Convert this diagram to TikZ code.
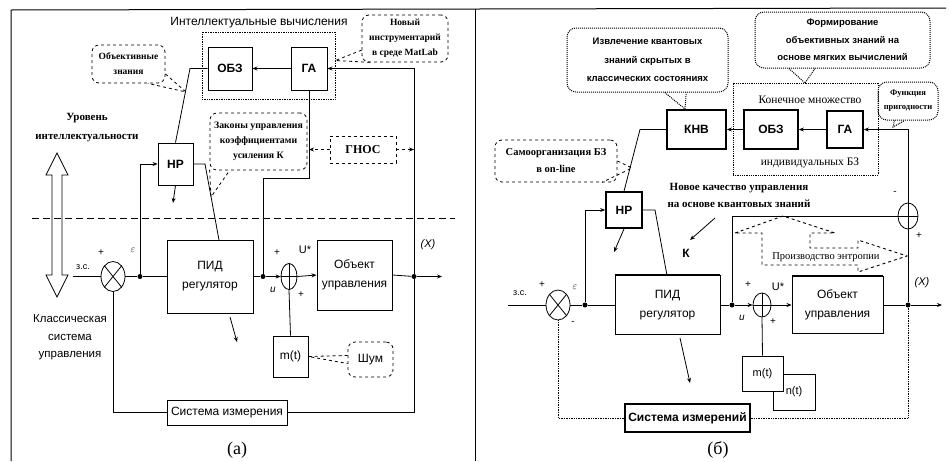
\documentclass[tikz,border=0pt]{standalone}
\usepackage{fontspec}
\setmainfont{Liberation Sans}
\newfontfamily\srf{Liberation Serif}
\usetikzlibrary{shapes.geometric,arrows.meta,calc}
\newcommand{\fsz}[2]{\fontsize{#1}{#2}\selectfont}
\begin{document}
\begin{tikzpicture}[x=1pt,y=-1pt,
  >={Stealth[length=5pt,width=4pt]},
  blk/.style={draw,line width=0.9pt,inner sep=0pt,align=center,font=\fsz{12}{19}},
  blkb/.style={blk,line width=1.7pt},
  bold/.style={font=\bfseries\fsz{12}{14}},
  sig/.style={line width=0.8pt},
  fb/.style={line width=0.7pt,densely dotted},
  dot/.style={circle,fill,inner sep=0pt,minimum size=5pt},
  dcall/.style={draw,dashed,line width=0.8pt,rounded corners=7pt,align=center,inner sep=0pt},
  pcall/.style={draw,densely dotted,line width=1pt,rounded corners=9pt,align=center,inner sep=0pt},
  sumj/.style={draw,ellipse,line width=0.8pt,inner sep=0pt,minimum width=24pt,minimum height=30pt},
  lbl/.style={inner sep=0pt,font=\fsz{10}{12}},
]
\useasboundingbox (0,0) rectangle (949,461);
% frames
\draw[line width=1pt] (11,461) -- (11,10) -- (946,8);
\draw[line width=1pt] (475,9) -- (475,461);

%% ---------------- panel (a) ----------------
\node[font=\fsz{12}{14}] (titleA) at (259,23) {Интеллектуальные вычисления};
\node[draw,densely dotted,line width=0.7pt,minimum width=133pt,minimum height=67pt] (icA) at (268.5,65.5) {};
\node[blk,bold,minimum width=44pt,minimum height=43pt] (obzA) at (230,68.5) {ОБЗ};
\node[blk,bold,minimum width=36pt,minimum height=43pt] (gaA) at (309,68.5) {ГА};
\node[blk,bold,minimum width=35pt,minimum height=42pt] (hpA) at (175.5,164) {НР};
\node[blk,minimum width=86pt,minimum height=73pt] (pidA) at (210,276.5) {ПИД\\регулятор};
\node[blk,minimum width=75pt,minimum height=70pt] (objA) at (354.5,275) {Объект\\управления};
\node[blk,minimum width=35pt,minimum height=41pt] (mtA) at (290.5,356.5) {m(t)};
\node[blk,minimum width=120pt,minimum height=25pt] (measA) at (227,412.5) {Система измерения};
\node[draw,dashed,line width=0.8pt,minimum width=66pt,minimum height=27pt,font=\srf\bfseries\fsz{12}{14}] (gnosA) at (363,149.5) {ГНОС};

\node[sumj] (sumA) at (113,276.5) {};
\draw[sig] (sumA.north west) -- (sumA.south east) (sumA.north east) -- (sumA.south west);
\node[sumj,minimum width=16pt,minimum height=26pt] (plusA) at (289,276.5) {};
\draw[sig] (plusA.north) -- (plusA.south) (plusA.west) -- (plusA.east);

\node[dot] (edotA) at (140,276.5) {};
\node[dot] (udotA) at (263,276.5) {};
\node[dot] (xdotA) at (414,276.5) {};
\coordinate (zsA) at (73,276.5);
\coordinate (outA) at (442,276.5);
\coordinate (gaBendA) at (263,178);
\coordinate (hpBendA) at (190,68.5);
\coordinate (hpOutA) at (205,164);
\coordinate (pidInA) at (219,240);
\coordinate (hpDownA) at (173,203);
\coordinate (pidArrSA) at (230,317);
\coordinate (pidArrEA) at (237,342);

\draw[sig,->] (gaA) -- (obzA);
\draw[sig,->] (xdotA) |- (gaA.east);
\draw[sig] (hpA.north) -- (hpBendA) -- (obzA.west);
\draw[sig] (gaA.south) |- (gaBendA) -- (udotA);
\draw[sig,->] (edotA) |- (hpA.west);
\draw[sig] (hpA.east) -- (hpOutA) -- (pidInA);
\draw[sig,->] (hpA.south) -- (hpDownA);
\draw[sig] (zsA) -- (sumA.west);
\draw[sig] (sumA.east) -- (edotA) -- (pidA.west);
\draw[sig] (pidA.east) -- (udotA);
\draw[sig,->] (udotA) -- (plusA.west);
\draw[sig,->] (plusA.east) -- (objA.west);
\draw[sig] (objA.east) -- (xdotA);
\draw[sig,->] (xdotA) -- (outA);
\draw[sig] (xdotA) |- (measA.east);
\draw[sig] (measA.west) -| (sumA.south);
\draw[sig] (mtA.north) -- (plusA.south);
\draw[sig,->] (pidArrSA) -- (pidArrEA);
\draw[sig,dashed,->] (gnosA.west) -- (gaA.south |- gnosA.west);
\draw[sig,dashed,->] (gnosA.east) -- (xdotA |- gnosA.east);

\draw[line width=1pt,dash pattern=on 7pt off 4pt] (32,218) -- (455,218);
\draw[line width=0.8pt] (57,153) -- (68,175) -- (62,175) -- (62,275) -- (68,275) -- (57,297)
  -- (46,275) -- (52,275) -- (52,175) -- (46,175) -- cycle;

\node[font=\srf\bfseries\fsz{11}{19},align=center] (levelA) at (87,127.5) {Уровень\\интеллектуальности};
\node[font=\fsz{11.5}{17.5},align=center] (classA) at (70,337.5) {Классическая\\система\\управления};

\node[lbl,font=\fsz{9}{11}] at (83,267) {з.с.};
\node[lbl] at (101,253) {+};
\node[lbl,font=\fsz{10}{11}] at (133,250) {$\varepsilon$};
\node[lbl] at (277,253) {+};
\node[lbl,font=\itshape\fsz{10}{12}] at (273,290) {u};
\node[lbl,font=\fsz{11}{12}] at (305,250) {U*};
\node[lbl] at (301,295) {+};
\node[lbl,font=\itshape\fsz{11}{12}] at (428,245) {(X)};
\node[font=\srf\fsz{18}{20}] (capA) at (237,450) {(a)};

\node[dcall,minimum width=73pt,minimum height=38pt,font=\srf\bfseries\fsz{9.5}{15}] (objzA) at (128.5,64) {Объективные\\знания};
\coordinate (tipObjA) at (186,92);
\draw[sig,dashed] (objzA.-15) -- (tipObjA) -- (objzA.-45);
\node[dcall,minimum width=97pt,minimum height=57pt,font=\srf\bfseries\fsz{9.8}{15}] (lawsA) at (258.5,141.5) {Законы управления\\коэффициентами\\усиления К};
\coordinate (tipLawsA) at (211,197);
\draw[sig,dashed] (lawsA.-150) -- (tipLawsA) -- (lawsA.-135);
\node[dcall,minimum width=86pt,minimum height=47pt,font=\srf\bfseries\fsz{9.5}{15}] (matA) at (405,38.5) {Новый\\инструментарий\\в среде MatLab};
\coordinate (tipMatA) at ($(icA.east)+(0,-5)$);
\draw[sig,dashed] (matA.-165) -- (tipMatA) -- (matA.-145);
\node[dcall,minimum width=45pt,minimum height=35pt,font=\fsz{12}{14}] (noiseA) at (370.5,359.5) {Шум};
\draw[sig,dashed] (noiseA.170) -- (mtA.east) -- (noiseA.190);

%% ---------------- panel (b) ----------------
\node[draw,densely dotted,line width=0.8pt,minimum width=145pt,minimum height=92pt] (finB) at (805.5,129) {};
\node[font=\srf\fsz{11.5}{13}] (finT1) at (810,100) {Конечное множество};
\node[font=\srf\fsz{11.5}{13}] (finT2) at (810,163) {индивидуальных БЗ};

\node[blkb,bold,minimum width=59pt,minimum height=39pt] (knbB) at (696.5,129.5) {КНВ};
\node[blkb,bold,minimum width=54pt,minimum height=39pt] (obzB) at (771,129.5) {ОБЗ};
\node[blkb,bold,minimum width=36pt,minimum height=37pt] (gaB) at (845,129.5) {ГА};
\node[blkb,bold,minimum width=36pt,minimum height=36pt] (hpB) at (624,210) {НР};
\node[blk,minimum width=105pt,minimum height=59pt] (pidB) at (667.5,305) {ПИД\\регулятор};
\draw[line width=1.7pt] (pidB.north west) -- (pidB.north east);
\node[blk,minimum width=91pt,minimum height=57pt] (objB) at (837.5,305) {Объект\\управления};
\draw[line width=1.7pt] (objB.north west) -- (objB.north east);
\node[blk,minimum width=42pt,minimum height=36pt,font=\fsz{11}{13}] (ntB) at (794,392) {n(t)};
\node[blk,fill=white,minimum width=41pt,minimum height=35pt,font=\fsz{11}{13}] (mtB) at (762.5,373.5) {m(t)};
\node[blkb,bold,minimum width=125pt,minimum height=28pt] (measB) at (687.5,418) {Система измерений};

\node[sumj] (sumB) at (558,305) {};
\draw[sig] (sumB.north west) -- (sumB.south east) (sumB.north east) -- (sumB.south west);
\node[sumj,minimum width=18pt,minimum height=24pt] (plusB) at (762,305) {};
\draw[sig] (plusB.north) -- (plusB.south) (plusB.west) -- (plusB.east);
\node[sumj,minimum width=20pt,minimum height=26pt] (topB) at (908,216) {};
\draw[sig] (topB.north) -- (topB.south) (topB.west) -- (topB.east);

\node[dot] (edotB) at (585,305) {};
\node[dot] (udotB) at (732,305) {};
\node[dot] (xdotB) at (908,305) {};
\coordinate (zsB) at (508,305);
\coordinate (outB) at (942,305);
\coordinate (hpBendB) at (640,129.5);
\coordinate (hpOutB) at (655,210);
\coordinate (pidInB) at (667,275.5);
\coordinate (hpDownB) at (614,252);
\coordinate (pidArrSB) at (680,338);
\coordinate (pidArrEB) at (690,383);
\coordinate (kArrS) at (715,218);
\coordinate (kArrE) at (690,240);

\draw[sig,->] (gaB) -- (obzB);
\draw[sig,->] (obzB) -- (knbB);
\draw[sig,->] (topB.north) |- (gaB.east);
\draw[sig] (xdotB) -- (topB.south);
\draw[sig] (udotB) |- (topB.west);
\draw[sig] (hpB.north) -- (hpBendB) -- (knbB.west);
\draw[sig,->] (edotB) |- (hpB.west);
\draw[sig] (hpB.east) -- (hpOutB) -- (pidInB);
\draw[sig,->] (hpB.south) -- (hpDownB);
\draw[sig] (zsB) -- (sumB.west);
\draw[sig] (sumB.east) -- (edotB) -- (pidB.west);
\draw[sig] (pidB.east) -- (udotB);
\draw[sig,->] (udotB) -- (plusB.west);
\draw[sig,->] (plusB.east) -- (objB.west);
\draw[sig] (objB.east) -- (xdotB);
\draw[sig,->] (xdotB) -- (outB);
\draw[sig] (mtB.north) -- (plusB.south);
\draw[fb] (xdotB) |- (measB.east);
\draw[fb] (measB.west) -| (sumB.south);
\draw[sig,->] (pidArrSB) -- (pidArrEB);
\draw[sig,->] (kArrS) -- (kArrE);

\draw[dashed,line width=0.9pt] (735,233) -- (783,216) -- (835,233) -- (810,233) -- (810,248)
  -- (858,248) -- (858,240) -- (907,256) -- (858,272) -- (858,265) -- (762,265) -- (762,233) -- cycle;
\node[font=\srf\fsz{10.5}{12},inner sep=0pt] (entB) at (826,257) {Производство энтропии};
\node[font=\srf\bfseries\fsz{11}{17},align=center] (newB) at (739,195.5) {Новое качество управления\\на основе квантовых знаний};
\node[font=\bfseries\fsz{12}{14}] (kB) at (686,253) {К};

\node[lbl,font=\fsz{9}{11}] at (520,293) {з.с.};
\node[lbl] at (542,285) {+};
\node[lbl,font=\fsz{10}{11}] at (575,287) {$\varepsilon$};
\node[lbl] at (573,323) {-};
\node[lbl,font=\itshape\fsz{10}{12}] at (742,318) {u};
\node[lbl] at (748,285) {+};
\node[lbl,font=\fsz{11}{12}] at (778,287) {U*};
\node[lbl] at (773,322) {+};
\node[lbl,font=\itshape\fsz{11}{12}] at (922,283) {(X)};
\node[lbl] at (895,193) {-};
\node[lbl] at (919,236) {+};
\node[font=\srf\fsz{18}{20}] (capB) at (718,450) {(б)};

\node[pcall,minimum width=161pt,minimum height=64pt,font=\bfseries\fsz{9.5}{18.5}] (izvB) at (647.5,60) {Извлечение квантовых\\знаний скрытых в\\классических состояниях};
\coordinate (tipIzvB) at (685,109);
\draw[line width=1pt,densely dotted] (izvB.-62) -- (tipIzvB) -- (izvB.-40);
\node[pcall,minimum width=175pt,minimum height=56pt,font=\bfseries\fsz{9.5}{17.5}] (formB) at (842.5,40) {Формирование\\объективных знаний на\\основе мягких вычислений};
\coordinate (tipFormB) at (805,83);
\draw[line width=1pt,densely dotted] (formB.-152) -- (tipFormB) -- (formB.-134);
\node[pcall,minimum width=60pt,minimum height=38pt,font=\srf\bfseries\fsz{8.5}{14}] (funcB) at (908,101) {Функция\\пригодности};
\coordinate (tipFuncB) at (893,127);
\draw[line width=1pt,densely dotted] (funcB.-125) -- (tipFuncB) -- (funcB.-100);
\node[dcall,minimum width=122pt,minimum height=42pt,font=\srf\bfseries\fsz{10.5}{17}] (selfB) at (556,161) {Самоорганизация БЗ\\в on-line};
\coordinate (tipSelfB) at (632,168);
\draw[sig,dashed] (selfB.0) -- (tipSelfB) -- (selfB.-25);
\end{tikzpicture}
\end{document}
